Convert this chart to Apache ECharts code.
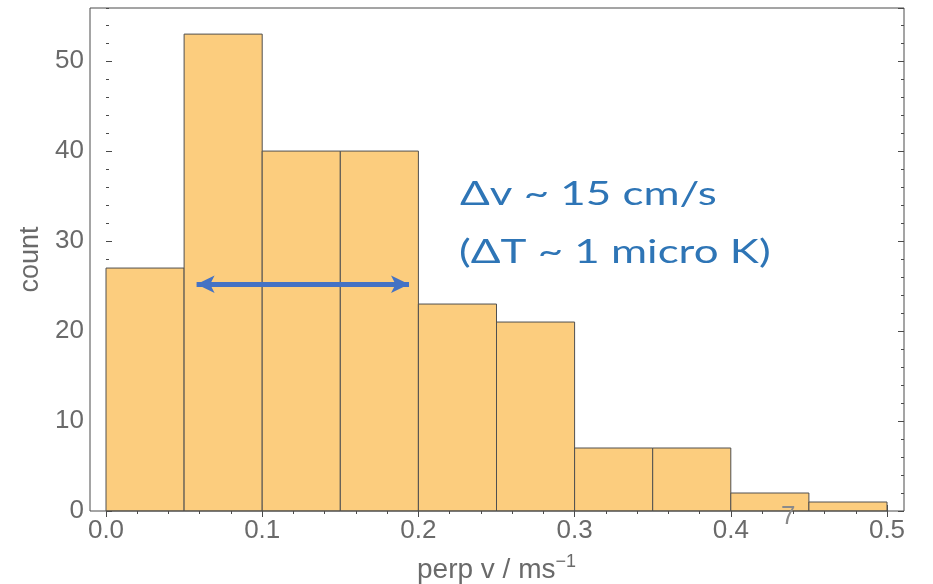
<!DOCTYPE html>
<html>
<head>
<meta charset="utf-8">
<script src="https://cdn.jsdelivr.net/npm/echarts@6/dist/echarts.min.js"></script>
<style>
  html, body { margin: 0; padding: 0; background: #fff; }
  #hist { width: 933px; height: 584px; }
</style>
</head>
<body>
<div id="hist"></div>
<script>
// histogram bins (perp v in m/s) and counts per bin
const binEdges = [0, 0.05, 0.1, 0.15, 0.2, 0.25, 0.3, 0.35, 0.4, 0.45, 0.5];
const counts = [27, 53, 40, 40, 23, 21, 7, 7, 2, 1];
const xTickLabels = ['0.0', '0.1', '0.2', '0.3', '0.4', '0.5'];
const yTickLabels = ['0', '10', '20', '30', '40', '50'];

// double arrow marking the spread, in data units
const arrowFrom = [0.058, 25.2];
const arrowTo = [0.194, 25.2];

const yMax = 55.9;
const labelFont = 'Liberation Sans';
const frameColor = '#4a4a4a';
const labelColor = '#6a6a6a';

const chart = echarts.init(document.getElementById('hist'));

const binData = counts.map((c, i) => [binEdges[i], binEdges[i + 1], c]);

function xLabel(v) {
  const s = v.toFixed(1);
  return xTickLabels.indexOf(s) >= 0 ? s : '';
}
function yLabel(v) {
  const s = String(Math.round(v));
  return Math.abs(v - Math.round(v)) < 1e-6 && yTickLabels.indexOf(s) >= 0 ? s : '';
}

const tickStyle = { color: frameColor, width: 1 };

const option = {
  animation: false,
  grid: [
    { left: 106, right: 46, top: 8, bottom: 73, outerBoundsMode: 'none', containLabel: false },
    { left: 90, right: 29, top: 8, bottom: 73, outerBoundsMode: 'none', containLabel: false, show: true, borderColor: frameColor, borderWidth: 1, backgroundColor: 'transparent', z: 5 }
  ],
  xAxis: [
    {
      gridIndex: 0, type: 'value', position: 'bottom', min: 0, max: 0.5, interval: 0.1,
      axisLine: { show: false },
      axisTick: { inside: true, length: 6, lineStyle: tickStyle },
      minorTick: { show: true, splitNumber: 5, length: 3, lineStyle: tickStyle },
      splitLine: { show: false },
      axisLabel: { formatter: xLabel, fontFamily: labelFont, fontSize: 26, color: labelColor, margin: 7 },
      name: '{a|perp v / ms}{b|\u22121}',
      nameLocation: 'middle',
      nameGap: 42,
      nameTextStyle: {
        rich: {
          a: { fontFamily: labelFont, fontSize: 28, color: labelColor, lineHeight: 34 },
          b: { fontFamily: labelFont, fontSize: 18, color: labelColor, verticalAlign: 'top', lineHeight: 18 }
        }
      }
    },
    {
      gridIndex: 0, type: 'value', position: 'top', min: 0, max: 0.5, interval: 0.1,
      axisLine: { show: false },
      axisTick: { inside: true, length: 6, lineStyle: tickStyle },
      minorTick: { show: true, splitNumber: 5, length: 3, lineStyle: tickStyle },
      splitLine: { show: false },
      axisLabel: { show: false }
    },
    { gridIndex: 1, type: 'value', min: 0, max: 1, show: false }
  ],
  yAxis: [
    {
      gridIndex: 0, type: 'value', position: 'left', offset: 16, min: 0, max: yMax, interval: 10,
      axisLine: { show: false },
      axisTick: { inside: true, length: 6, lineStyle: tickStyle },
      splitLine: { show: false },
      axisLabel: { formatter: yLabel, showMaxLabel: false, fontFamily: labelFont, fontSize: 26, color: labelColor, margin: 6 },
      name: 'count',
      nameLocation: 'middle',
      nameGap: 39,
      nameTextStyle: { fontFamily: labelFont, fontSize: 27, color: labelColor }
    },
    {
      gridIndex: 0, type: 'value', position: 'left', offset: 16, min: 0, max: yMax, interval: 2,
      axisLine: { show: false },
      axisTick: { inside: true, length: 3, lineStyle: tickStyle },
      splitLine: { show: false },
      axisLabel: { show: false }
    },
    {
      gridIndex: 0, type: 'value', position: 'right', offset: 17, min: 0, max: yMax, interval: 10,
      axisLine: { show: false },
      axisTick: { inside: true, length: 6, lineStyle: tickStyle },
      splitLine: { show: false },
      axisLabel: { show: false }
    },
    {
      gridIndex: 0, type: 'value', position: 'right', offset: 17, min: 0, max: yMax, interval: 2,
      axisLine: { show: false },
      axisTick: { inside: true, length: 3, lineStyle: tickStyle },
      splitLine: { show: false },
      axisLabel: { show: false }
    },
    { gridIndex: 1, type: 'value', min: 0, max: 1, show: false }
  ],
  series: [
    {
      type: 'custom',
      xAxisIndex: 0,
      yAxisIndex: 0,
      silent: true,
      data: binData,
      encode: { x: [0, 1], y: 2 },
      renderItem: function (params, api) {
        const p0 = api.coord([api.value(0), 0]);
        const p1 = api.coord([api.value(1), api.value(2)]);
        return {
          type: 'rect',
          shape: { x: p0[0], y: p1[1], width: p1[0] - p0[0], height: p0[1] - p1[1] },
          style: { fill: '#fccd7e', stroke: '#505050', lineWidth: 1 }
        };
      }
    },
    {
      type: 'line',
      xAxisIndex: 0,
      yAxisIndex: 0,
      data: [],
      silent: true,
      z: 10,
      markLine: {
        silent: true,
        symbol: ['arrow', 'arrow'],
        symbolSize: [13, 18],
        label: { show: false },
        lineStyle: { color: '#4472c4', width: 5, type: 'solid' },
        emphasis: { disabled: true },
        data: [[{ coord: arrowFrom }, { coord: arrowTo }]]
      }
    }
  ],
  graphic: [
    {
      type: 'text', x: 460, y: 178, scaleX: 1.33, z: 20,
      style: { text: '\u0394v ~ 15 cm/s', font: '33px Lato', fill: '#2e75b6' }
    },
    {
      type: 'text', x: 459, y: 236, scaleX: 1.33, z: 20,
      style: { text: '(\u0394T ~ 1 micro K)', font: '33px Lato', fill: '#2e75b6' }
    },
    {
      type: 'text', left: 781, top: 504, z: 20,
      style: { text: '7', font: '26px "Liberation Sans"', fill: '#8a8a8a' }
    }
  ]
};

chart.setOption(option);
</script>
</body>
</html>
